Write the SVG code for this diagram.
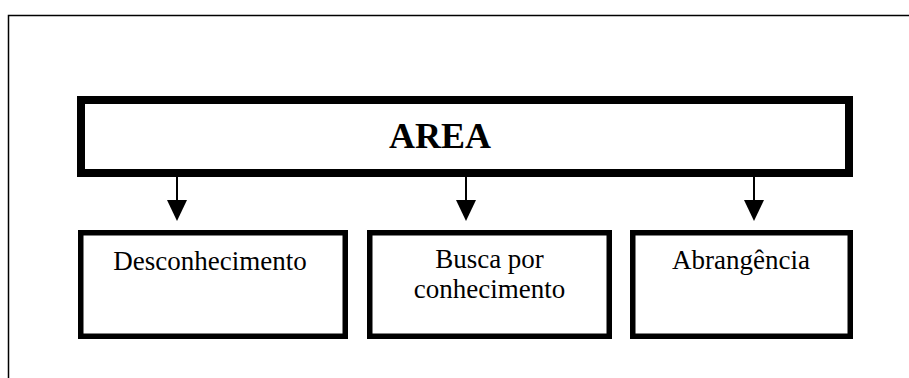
<svg xmlns="http://www.w3.org/2000/svg" width="909" height="378" viewBox="0 0 909 378">
<defs>
<style>
.frame{fill:none;stroke:#000;stroke-width:1.5}
.main{fill:#fff;stroke:#000;stroke-width:8}
.box{fill:#fff;stroke:#000;stroke-width:5.5}
.conn{stroke:#000;stroke-width:2;fill:none}
.t{font-family:"Liberation Serif","Times New Roman",serif;font-size:27px;fill:#000;text-anchor:middle}
.tb{font-family:"Liberation Serif","Times New Roman",serif;font-size:36px;font-weight:bold;fill:#000;text-anchor:middle}
</style>
</defs>
<rect width="909" height="378" fill="#fff"/>
<path class="frame" d="M8.5,378 V15.5 H909"/>
<g id="area">
<rect class="main" x="81" y="100" width="768" height="73"/>
<text class="tb" x="440" y="148">AREA</text>
</g>
<g id="connectors">
<line class="conn" x1="177" y1="177" x2="177" y2="202"/>
<polygon points="167,200 187,200 177,221"/>
<line class="conn" x1="466" y1="177" x2="466" y2="202"/>
<polygon points="456,200 476,200 466,221"/>
<line class="conn" x1="754" y1="177" x2="754" y2="202"/>
<polygon points="744,200 764,200 754,221"/>
</g>
<g id="desconhecimento">
<rect class="box" x="80.75" y="232.75" width="264.5" height="103.5"/>
<text class="t" x="210" y="270">Desconhecimento</text>
</g>
<g id="busca">
<rect class="box" x="369.75" y="232.75" width="239.5" height="103.5"/>
<text class="t" x="489.5" y="268">Busca por</text>
<text class="t" x="489.5" y="298">conhecimento</text>
</g>
<g id="abrangencia">
<rect class="box" x="632.75" y="232.75" width="217.5" height="103.5"/>
<text class="t" x="741" y="269">Abrangência</text>
</g>
</svg>
